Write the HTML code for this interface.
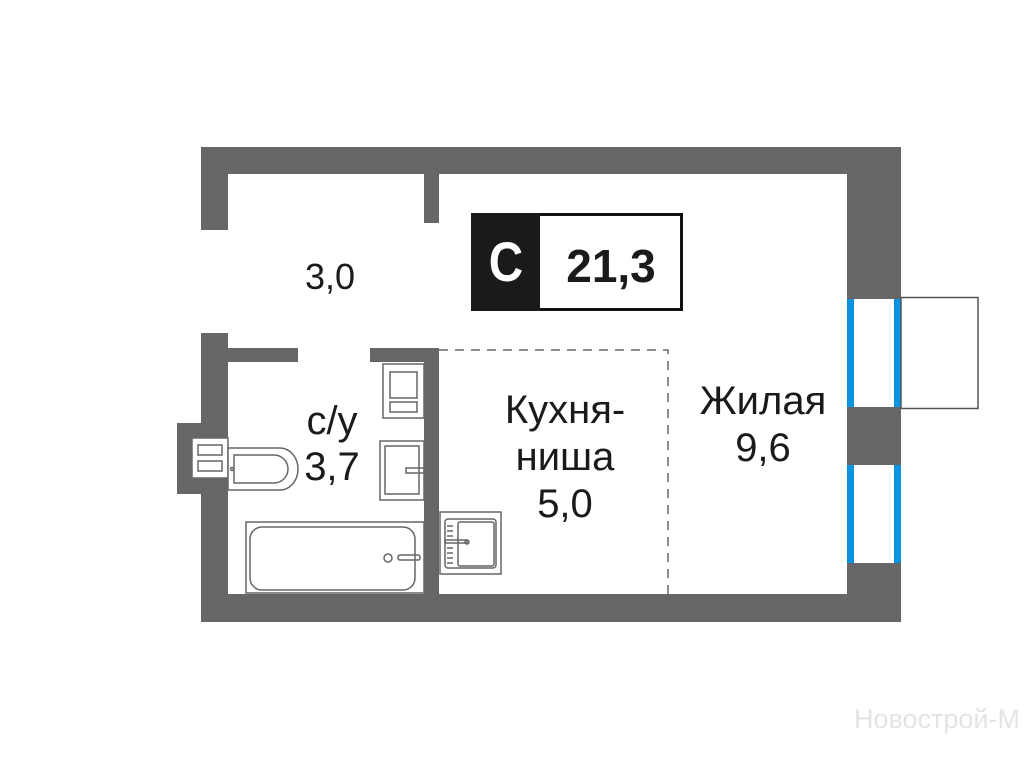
<!DOCTYPE html>
<html><head><meta charset="utf-8"><style>
body{margin:0;width:1024px;height:768px;background:#fff;overflow:hidden;position:relative;font-family:"Liberation Sans",sans-serif}
.t{position:absolute;color:#1a1a1a;font-size:40px;text-align:center;line-height:1}
</style></head><body>
<svg width="1024" height="768" style="position:absolute;left:0;top:0">
<g fill="#666">
<rect x="201" y="147" width="700" height="27"/>
<rect x="201" y="147" width="27" height="83"/>
<rect x="424" y="147" width="15" height="76"/>
<rect x="847" y="147" width="54" height="152"/>
<rect x="847" y="407" width="54" height="58"/>
<rect x="847" y="563" width="54" height="59"/>
<rect x="201" y="594" width="700" height="28"/>
<rect x="201" y="333" width="27" height="289"/>
<rect x="177" y="423" width="30" height="71"/>
<rect x="201" y="348" width="97" height="14"/>
<rect x="370" y="348" width="69" height="14"/>
<rect x="424" y="348" width="15" height="250"/>
</g>
<g fill="#0a93e0">
<rect x="847" y="299" width="7" height="108"/><rect x="894" y="299" width="7" height="108"/>
<rect x="847" y="465" width="7" height="98"/><rect x="894" y="465" width="7" height="98"/>
</g>
<rect x="901" y="297.5" width="77" height="111" fill="none" stroke="#555" stroke-width="1.5"/>
<path d="M439 350H668V594" fill="none" stroke="#666" stroke-width="1.5" stroke-dasharray="9,7"/>
<g fill="none" stroke="#666" stroke-width="1.5">
<rect x="192" y="438" width="36" height="40" fill="#fff"/>
<rect x="198" y="445" width="24" height="10"/><rect x="198" y="461" width="24" height="10"/>
<path d="M228 448H280A18 21 0 0 1 280 490H228Z" fill="#fff"/>
<path d="M234 455H274A14 14 0 0 1 274 483H234Z"/>
<circle cx="232" cy="469" r="1.5"/>
<rect x="383" y="364" width="41" height="54"/>
<rect x="390" y="372" width="27" height="26"/><rect x="390" y="402" width="27" height="10"/>
<rect x="380" y="441" width="44" height="59"/><rect x="385" y="446" width="34" height="48"/>
<rect x="406" y="468" width="18" height="5"/>
<rect x="246" y="522" width="178" height="71"/>
<rect x="250" y="527" width="165" height="63" rx="12"/>
<circle cx="388" cy="558" r="4"/><rect x="398" y="555" width="22" height="5" rx="2"/>
<rect x="440" y="512" width="61" height="62"/>
<rect x="445" y="519" width="51" height="49" rx="3"/>
<rect x="458" y="522" width="36" height="44" rx="2"/>
<rect x="445" y="540" width="22" height="3"/><circle cx="467" cy="542" r="2"/>
<path d="M447 526h6M447 531h6M447 536h6M447 548h6M447 553h6M447 558h6M447 563h6"/>
</g>
<rect x="472.5" y="214.5" width="209" height="95" fill="#fff" stroke="#111" stroke-width="3"/>
<rect x="471" y="213" width="69" height="98" fill="#1a1a1a"/>
</svg>
<div class="t" style="left:470px;top:234px;width:72px;font-size:56px;color:#fff;font-weight:bold;transform:scaleX(0.85)">С</div>
<div class="t" style="left:540px;top:243px;width:142px;font-size:46px;font-weight:bold">21,3</div>
<div class="t" style="left:280px;top:259px;width:100px;font-size:36px">3,0</div>
<div class="t" style="left:282px;top:398px;width:100px;line-height:46px">с/у<br>3,7</div>
<div class="t" style="left:480px;top:387px;width:170px;line-height:47px">Кухня-<br>ниша<br>5,0</div>
<div class="t" style="left:670px;top:378px;width:186px;line-height:47px">Жилая<br>9,6</div>
<div class="t" style="left:820px;top:706px;width:200px;font-size:27px;color:#e4e4e4;text-align:right">Новострой-М</div>
</body></html>
